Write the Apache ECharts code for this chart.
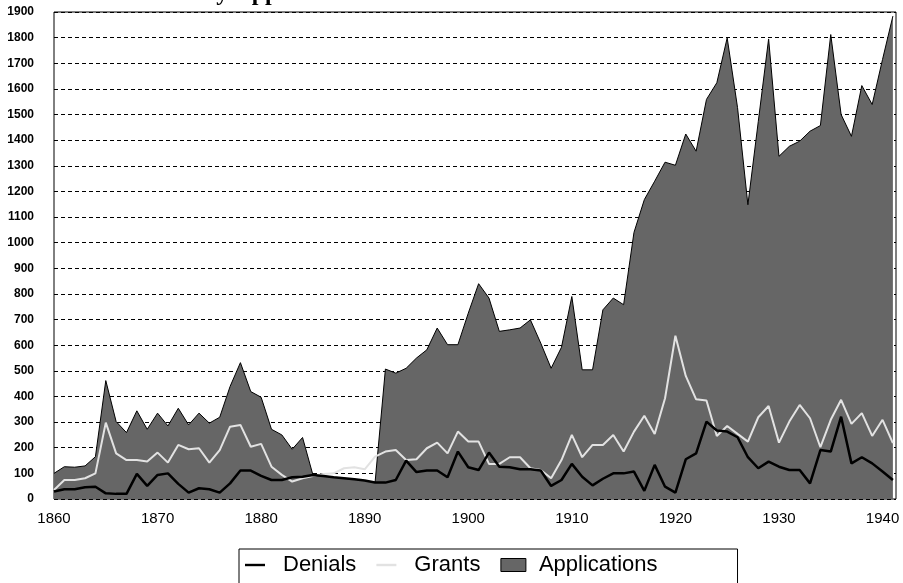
<!DOCTYPE html>
<html>
<head>
<meta charset="utf-8">
<title>Denials, Grants, Applications</title>
<script src="https://cdn.jsdelivr.net/npm/echarts@6/dist/echarts.min.js"></script>
<style>
  html, body { margin: 0; padding: 0; background: #fff; }
  #chart { width: 903px; height: 583px; }
</style>
</head>
<body>
<div id="chart"></div>
<script>
const years = [
  1860, 1861, 1862, 1863, 1864, 1865, 1866, 1867, 1868, 1869,
  1870, 1871, 1872, 1873, 1874, 1875, 1876, 1877, 1878, 1879,
  1880, 1881, 1882, 1883, 1884, 1885, 1886, 1887, 1888, 1889,
  1890, 1891, 1892, 1893, 1894, 1895, 1896, 1897, 1898, 1899,
  1900, 1901, 1902, 1903, 1904, 1905, 1906, 1907, 1908, 1909,
  1910, 1911, 1912, 1913, 1914, 1915, 1916, 1917, 1918, 1919,
  1920, 1921, 1922, 1923, 1924, 1925, 1926, 1927, 1928, 1929,
  1930, 1931, 1932, 1933, 1934, 1935, 1936, 1937, 1938, 1939,
  1940, 1941
]

const applications = [
  100, 126, 124, 129, 165, 462, 302, 259, 344, 272,
  335, 285, 354, 289, 335, 296, 319, 439, 532, 419,
  397, 272, 250, 194, 240, 94, 90, 85, 81, 77,
  72, 64, 507, 491, 510, 550, 582, 667, 602, 602,
  725, 840, 784, 654, 660, 667, 699, 608, 510, 592,
  790, 504, 504, 738, 784, 758, 1040, 1168, 1240, 1314,
  1302, 1424, 1357, 1559, 1624, 1799, 1527, 1148, 1472, 1795,
  1337, 1376, 1396, 1435, 1457, 1812, 1500, 1415, 1613, 1539,
  1715, 1884
]

const grants = [
  35, 74, 74, 81, 100, 298, 178, 152, 152, 146,
  181, 142, 211, 194, 198, 142, 191, 282, 289, 204,
  215, 126, 94, 68, 81, 90, 98, 100, 120, 124,
  116, 165, 185, 191, 152, 155, 198, 220, 178, 263,
  224, 224, 137, 137, 163, 163, 120, 113, 81, 152,
  250, 163, 211, 211, 250, 185, 263, 325, 254, 393,
  637, 480, 389, 384, 246, 285, 254, 224, 319, 363,
  220, 302, 367, 315, 202, 309, 387, 293, 335, 246,
  309, 218
]

const denials = [
  29, 38, 38, 46, 48, 22, 20, 20, 98, 51,
  94, 100, 59, 25, 42, 38, 25, 61, 111, 111,
  90, 74, 74, 85, 87, 94, 90, 85, 81, 77,
  72, 64, 64, 74, 150, 105, 111, 111, 85, 185,
  124, 113, 181, 126, 124, 116, 116, 111, 51, 74,
  137, 87, 53, 79, 100, 100, 107, 32, 133, 48,
  25, 155, 178, 302, 267, 263, 241, 163, 120, 146,
  126, 113, 113, 61, 191, 185, 321, 139, 163, 139,
  107, 74
]

const seriesNames = ['Denials', 'Grants', 'Applications']

function pairs (vals) {
  return years.map((y, i) => [y, vals[i]])
}

// plain numbers, no thousands separator
function plain (v) {
  return String(v)
}

const lineIcon = 'path://M0,0M33,14M0,5.8L20,5.8L20,8.2L0,8.2Z'
const boxIcon = 'path://M0,0M33,14M0,0.5L25,0.5L25,13.5L0,13.5Z'

const chart = echarts.init(document.getElementById('chart'))
chart.setOption({
  animation: false,
  title: {
    text: 'by Applications',
    left: 198,
    top: -23,
    textStyle: {
      fontFamily: 'Liberation Serif',
      fontSize: 24,
      fontWeight: 'bold',
      color: '#000'
    }
  },
  grid: {
    left: 54,
    right: 7,
    top: 12,
    bottom: 84,
    show: true,
    borderColor: '#000',
    borderWidth: 1,
    backgroundColor: 'transparent'
  },
  legend: {
    left: 239,
    top: 549,
    selectedMode: false,
    itemWidth: 33,
    itemHeight: 14,
    itemGap: 20,
    padding: [5, 80, 12, 6],
    borderColor: '#000',
    borderWidth: 1,
    borderRadius: 0,
    backgroundColor: '#fff',
    textStyle: {
      fontFamily: 'Liberation Sans',
      fontSize: 22,
      color: '#000'
    },
    data: [
      { name: seriesNames[0], icon: lineIcon, itemStyle: { color: '#000', borderWidth: 0 } },
      { name: seriesNames[1], icon: lineIcon, itemStyle: { color: '#e2e2e2', borderWidth: 0 } },
      { name: seriesNames[2], icon: boxIcon, itemStyle: { color: '#666', borderColor: '#000', borderWidth: 1 } }
    ]
  },
  xAxis: {
    type: 'value',
    min: 1860,
    max: 1941.3,
    interval: 10,
    axisLine: { show: false },
    axisTick: { show: false },
    splitLine: { show: false },
    axisLabel: {
      showMaxLabel: false,
      formatter: plain,
      margin: 12,
      fontFamily: 'Liberation Sans',
      fontSize: 15,
      color: '#000'
    }
  },
  yAxis: {
    type: 'value',
    min: 0,
    max: 1900,
    interval: 100,
    axisLine: { show: false },
    axisTick: { show: false },
    splitLine: {
      lineStyle: { color: '#000', type: [4, 3], width: 1 }
    },
    axisLabel: {
      formatter: plain,
      margin: 20,
      fontFamily: 'Liberation Sans',
      fontSize: 12,
      fontWeight: 'bold',
      color: '#000'
    }
  },
  series: [
    {
      name: seriesNames[2],
      type: 'line',
      symbol: 'none',
      z: 2,
      color: '#666',
      lineStyle: { color: '#000', width: 1 },
      areaStyle: { color: '#666', opacity: 1 },
      data: pairs(applications)
    },
    {
      name: seriesNames[1],
      type: 'line',
      symbol: 'none',
      z: 3,
      color: '#e2e2e2',
      lineStyle: { color: '#e2e2e2', width: 2 },
      data: pairs(grants)
    },
    {
      name: seriesNames[0],
      type: 'line',
      symbol: 'none',
      z: 4,
      color: '#000',
      lineStyle: { color: '#000', width: 2.5 },
      data: pairs(denials)
    }
  ]
})
</script>
</body>
</html>
